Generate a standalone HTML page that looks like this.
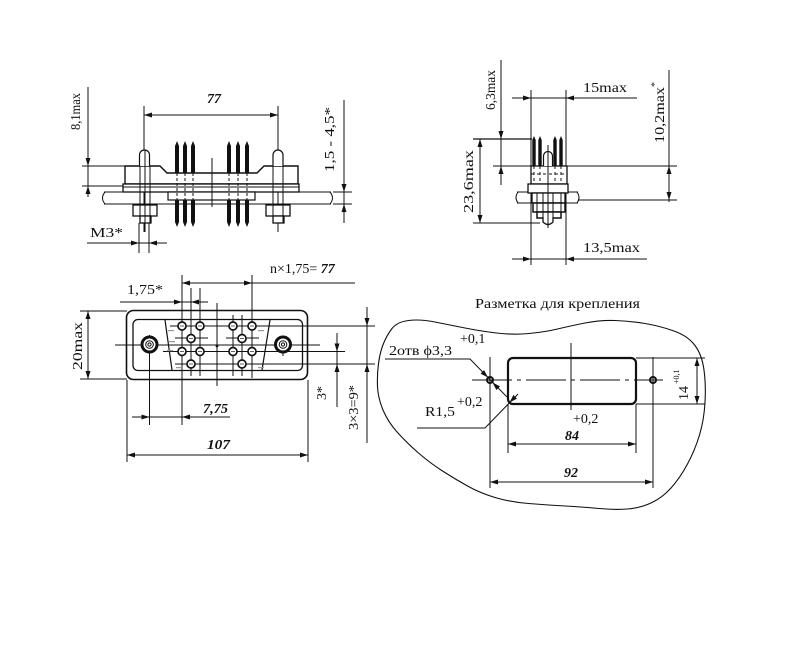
<!DOCTYPE html>
<html><head><meta charset="utf-8"><style>
html,body{margin:0;padding:0;background:#fff;}
svg{display:block;}
text{font-family:"Liberation Serif","DejaVu Serif",serif;fill:#111;font-size:14px;}
.bi{font-weight:bold;font-style:italic;}
</style></head><body>
<svg width="788" height="649" viewBox="0 0 788 649" xmlns="http://www.w3.org/2000/svg">
<rect width="788" height="649" fill="#fff"/>

<!-- ============ TOP-LEFT VIEW ============ -->
<g stroke="#111" stroke-width="1" fill="none">
  <!-- 77 dim -->
  <path d="M144,115 H278"/>
  <path d="M144,106 V232 M278,106 V232"/>
  <!-- 8,1max dim -->
  <path d="M88,87 V197 M82,166 H125 M82,186 H124"/>
  <!-- panel -->
  <path d="M104,192 H331 M104,204 H331"/>
  <path d="M105,192 Q100,198 105,204 M330,192 Q335,198 330,204"/>
  <!-- body -->
  <path d="M125,184 V166 H160 L167,173 H257 L264,166 H298 V184 Z" fill="#fff" stroke-width="1.4"/>
  <rect x="123" y="184" width="176" height="8" fill="#fff" stroke-width="1.3"/>
  <path d="M123,187 H299"/>
  <rect x="168" y="192" width="87" height="8" fill="#fff" stroke-width="1.2"/>
  <!-- center line -->
  <path d="M212,158 V207"/>
  <!-- hidden pin lines -->
  <path d="M177,173 V200 M185,173 V200 M193,173 V200 M229,173 V200 M238,173 V200 M247,173 V200" stroke-dasharray="3,2"/>
  <!-- left stud -->
  <path d="M139.5,166 V155 A5,5 0 0 1 149.5,155 V166" fill="#fff" stroke-width="1.2"/>
  <path d="M140,166 V223 M150,166 V223"/>
  <rect x="133" y="205" width="24" height="11" fill="#fff" stroke-width="1.3"/>
  <rect x="140" y="216" width="11" height="7" fill="#fff" stroke-width="1.3"/>
  <path d="M140,205 V223 M150,205 V223 M145,150 V232"/>
  <!-- right stud -->
  <path d="M273,166 V155 A5,5 0 0 1 283,155 V166" fill="#fff" stroke-width="1.2"/>
  <path d="M273,166 V223 M283,166 V223"/>
  <rect x="266" y="205" width="24" height="11" fill="#fff" stroke-width="1.3"/>
  <rect x="273" y="216" width="11" height="7" fill="#fff" stroke-width="1.3"/>
  <path d="M273,205 V223 M283,205 V223"/>
  <!-- 1,5-4,5 dim -->
  <path d="M344,100 V223 M333,192 H352 M333,204 H352"/>
  <!-- M3 dim -->
  <path d="M87,243 H167 M139,223 V253 M149,223 V253"/>
</g>
<!-- pins -->
<g fill="#111">
  <path d="M175,173 V146 L177,141 L179,146 V173 Z"/>
  <path d="M183,173 V146 L185,141 L187,146 V173 Z"/>
  <path d="M191,173 V146 L193,141 L195,146 V173 Z"/>
  <path d="M227,173 V146 L229,141 L231,146 V173 Z"/>
  <path d="M236,173 V146 L238,141 L240,146 V173 Z"/>
  <path d="M245,173 V146 L247,141 L249,146 V173 Z"/>
  <path d="M175,200 V222 L177,227 L179,222 V200 Z"/>
  <path d="M183,200 V222 L185,227 L187,222 V200 Z"/>
  <path d="M191,200 V222 L193,227 L195,222 V200 Z"/>
  <path d="M227,200 V222 L229,227 L231,222 V200 Z"/>
  <path d="M236,200 V222 L238,227 L240,222 V200 Z"/>
  <path d="M245,200 V222 L247,227 L249,222 V200 Z"/>
  <!-- arrows -->
  <polygon points="144,115 152,112.5 152,117.5"/>
  <polygon points="278,115 270,112.5 270,117.5"/>
  <polygon points="88,166 85.5,158 90.5,158"/>
  <polygon points="88,186 85.5,194 90.5,194"/>
  <polygon points="344,192 341.5,184 346.5,184"/>
  <polygon points="344,204 341.5,212 346.5,212"/>
  <polygon points="139,243 131,240.5 131,245.5"/>
  <polygon points="149,243 157,240.5 157,245.5"/>
</g>
<text class="bi" x="207" y="103" font-size="13">77</text>
<text transform="translate(80,130) rotate(-90)" textLength="37" lengthAdjust="spacingAndGlyphs">8,1max</text>
<text transform="translate(334,172) rotate(-90)" textLength="65" lengthAdjust="spacingAndGlyphs">1,5 - 4,5*</text>
<text x="90" y="237" textLength="33" lengthAdjust="spacingAndGlyphs">M3*</text>

<!-- ============ TOP-RIGHT VIEW ============ -->
<g stroke="#111" stroke-width="1" fill="none">
  <path d="M531,90 V265 M566,90 V265"/>
  <path d="M512,98 H637 M512,259 H647"/>
  <path d="M501,60 V185"/>
  <path d="M473,139 H532" stroke-width="1.3"/>
  <path d="M493,166 H677 M578,200 H677 M473,223 H540"/>
  <path d="M480,139 V223"/>
  <path d="M669,70 V202"/>
  <!-- panel -->
  <path d="M517,192 H578 M517,203 H578"/>
  <path d="M518,192 Q514,197.5 518,203 M577,192 Q581,197.5 577,203"/>
  <!-- body -->
  <rect x="531" y="166" width="36" height="18" fill="#fff" stroke-width="1.3"/>
  <path d="M534,166 V184 M540,166 V184 M555,166 V184 M561,166 V184" stroke-dasharray="3,3"/>
  <path d="M531,174 H567" stroke-dasharray="3,3"/>
  <rect x="528" y="184" width="40" height="9" fill="#fff" stroke-width="1.3"/>
  <path d="M543.5,166 V156 A4.5,4.5 0 0 1 552.5,156 V166" fill="#fff" stroke-width="1.2"/>
  <!-- nut assembly -->
  <rect x="532" y="193" width="33" height="10" fill="#fff" stroke-width="1.3"/>
  <rect x="533" y="203" width="32" height="9" fill="#fff" stroke-width="1.5"/>
  <rect x="537" y="212" width="24" height="6" fill="#fff" stroke-width="1.5"/>
  <path d="M543,217 V222 Q548,227 553,222 V217" fill="#fff" stroke-width="1.3"/>
  <path d="M537,193 V218 M543,193 V218 M553,193 V218 M561,193 V218 M548,145 V228"/>
</g>
<g fill="#111">
  <path d="M532.3,166 V140 L534,136 L535.7,140 V166 Z"/>
  <path d="M538.3,166 V140 L540,136 L541.7,140 V166 Z"/>
  <path d="M553.3,166 V140 L555,136 L556.7,140 V166 Z"/>
  <path d="M559.3,166 V140 L561,136 L562.7,140 V166 Z"/>
  <polygon points="531,98 523,95.5 523,100.5"/>
  <polygon points="566,98 574,95.5 574,100.5"/>
  <polygon points="531,259 523,256.5 523,261.5"/>
  <polygon points="566,259 574,256.5 574,261.5"/>
  <polygon points="501,139 498.5,131 503.5,131"/>
  <polygon points="501,166 498.5,174 503.5,174"/>
  <polygon points="480,139 477.5,147 482.5,147"/>
  <polygon points="480,223 477.5,215 482.5,215"/>
  <polygon points="669,166 666.5,174 671.5,174"/>
  <polygon points="669,200 666.5,192 671.5,192"/>
</g>
<text x="583" y="92" textLength="44" lengthAdjust="spacingAndGlyphs">15max</text>
<text x="583" y="252" textLength="57" lengthAdjust="spacingAndGlyphs">13,5max</text>
<text transform="translate(495,110) rotate(-90)" textLength="40" lengthAdjust="spacingAndGlyphs">6,3max</text>
<text transform="translate(473,213) rotate(-90)" textLength="63" lengthAdjust="spacingAndGlyphs">23,6max</text>
<text transform="translate(664,143) rotate(-90)"><tspan textLength="56" lengthAdjust="spacingAndGlyphs">10,2max</tspan><tspan dy="-6" font-size="10">*</tspan></text>

<!-- ============ BOTTOM-LEFT VIEW ============ -->
<g stroke="#111" stroke-width="1" fill="none">
  <!-- construction lines -->
  <path d="M182,275 V425 M191,288 V376 M200,288 V376 M217,303 V386 M233,315 V376 M242,315 V376 M252,275 V378 M149.5,335 V425 M283,336 V356"/>
  <path d="M170,326 H375 M175,338 H208 M226,338 H259 M115,345 H320 M163,351.5 H345 M175,364 H375"/>
  <path d="M127,380 V462 M308,380 V462"/>
  <!-- body -->
  <rect x="126.5" y="310.5" width="181" height="69" rx="7" fill="none" stroke-width="1.6"/>
  <rect x="133" y="319.5" width="169.5" height="51" rx="5" fill="none" stroke-width="1.3"/>
  <path d="M165,320 L172,370 M270,320 L262,370" stroke-width="1.2"/>
  <!-- holes -->
  <circle cx="149.5" cy="344.5" r="7.5" stroke-width="3" fill="#fff"/>
  <circle cx="149.5" cy="344.5" r="3.8"/>
  <circle cx="149.5" cy="344.5" r="1.6"/>
  <circle cx="283" cy="344.5" r="7.5" stroke-width="3" fill="#fff"/>
  <circle cx="283" cy="344.5" r="3.8"/>
  <circle cx="283" cy="344.5" r="1.6"/>
  <!-- contacts -->
  <g stroke-width="1.7" fill="#fff">
    <circle cx="182" cy="326" r="4"/><circle cx="200" cy="326" r="4"/>
    <circle cx="191" cy="338.5" r="4"/>
    <circle cx="182" cy="351.5" r="4"/><circle cx="200" cy="351.5" r="4"/>
    <circle cx="191" cy="364" r="4"/>
    <circle cx="233" cy="326" r="4"/><circle cx="252" cy="326" r="4"/>
    <circle cx="242" cy="338.5" r="4"/>
    <circle cx="233" cy="351.5" r="4"/><circle cx="252" cy="351.5" r="4"/>
    <circle cx="242" cy="364" r="4"/>
  </g>
  <path d="M180,326 H184 M198,326 H202 M189,338.5 H193 M180,351.5 H184 M198,351.5 H202 M189,364 H193 M231,326 H235 M250,326 H254 M240,338.5 H244 M231,351.5 H235 M250,351.5 H254 M240,364 H244" stroke="#666"/>
  <!-- dims -->
  <path d="M88,311 V379 M80,311 H127 M80,379 H127"/>
  <path d="M182,283 H355"/>
  <path d="M120,302 H208"/>
  <path d="M132,417 H230"/>
  <path d="M127,455 H308"/>
  <path d="M337,333 V407"/>
  <path d="M367,307 V443"/>
</g>
<g fill="#999">
  <rect x="168" y="330" width="6" height="1.2"/><rect x="169" y="341" width="6" height="1.2"/>
  <rect x="167" y="350" width="6" height="1.2"/><rect x="176" y="367" width="6" height="1.2"/>
  <rect x="258" y="330" width="6" height="1.2"/><rect x="258" y="367" width="6" height="1.2"/>
</g>
<g fill="#111">
  <circle cx="217" cy="346" r="1.4"/>
  <polygon points="88,311 85.5,319 90.5,319"/>
  <polygon points="88,379 85.5,371 90.5,371"/>
  <polygon points="182,283 190,280.5 190,285.5"/>
  <polygon points="252,283 244,280.5 244,285.5"/>
  <polygon points="182,302 174,299.5 174,304.5"/>
  <polygon points="191,302 199,299.5 199,304.5"/>
  <polygon points="149.5,417 141.5,414.5 141.5,419.5"/>
  <polygon points="182,417 190,414.5 190,419.5"/>
  <polygon points="127,455 135,452.5 135,457.5"/>
  <polygon points="308,455 300,452.5 300,457.5"/>
  <polygon points="337,351.5 334.5,343.5 339.5,343.5"/>
  <polygon points="337,364 334.5,372 339.5,372"/>
  <polygon points="367,326 364.5,318 369.5,318"/>
  <polygon points="367,364 364.5,372 369.5,372"/>
</g>
<text transform="translate(82,370) rotate(-90)" font-size="15" textLength="48" lengthAdjust="spacingAndGlyphs">20max</text>
<text x="270" y="273">n×1,75= <tspan class="bi">77</tspan></text>
<text x="127" y="294" textLength="36" lengthAdjust="spacingAndGlyphs">1,75*</text>
<text class="bi" x="203" y="413" textLength="25" lengthAdjust="spacingAndGlyphs">7,75</text>
<text class="bi" x="207" y="449" textLength="23" lengthAdjust="spacingAndGlyphs">107</text>
<text transform="translate(326,400) rotate(-90)">3*</text>
<text transform="translate(358,430) rotate(-90)" textLength="45" lengthAdjust="spacingAndGlyphs">3×3=9*</text>

<!-- ============ BOTTOM-RIGHT VIEW ============ -->
<text x="475" y="308" font-size="15" textLength="165" lengthAdjust="spacingAndGlyphs">Разметка для крепления</text>
<g stroke="#111" stroke-width="1" fill="none">
  <path d="M408.5,320.5 Q420,319 435,322 Q450,325 465,328 Q480,331 496.5,333 Q513,335 529,333.5 Q545,332 557.5,329 Q570,326 585,323 Q600,320 615,320.5 Q630,321 645,323.5 Q660,326 674,331 Q688,336 695,345.5 Q702,355 704,370 Q706,385 705,402.5 Q704,420 699.5,435 Q695,450 687.5,464 Q680,478 671,488 Q662,498 651,503 Q640,508 627.5,509 Q615,510 599,508.5 Q583,507 565,506 Q547,505 528.5,503.5 Q510,502 495,497.5 Q480,493 467.5,486 Q455,479 442.5,471 Q430,463 418.5,453 Q407,443 397.5,432.5 Q388,422 383,410 Q378,398 377.5,386.5 Q377,375 378.5,363.5 Q380,352 383.5,343.5 Q387,335 392,328.5 Q397,322 408.5,320.5 Z" stroke-width="1.1"/>
  <!-- ext lines -->
  <path d="M490,357 V488 M653,357 V488 M508,404 V453 M636,404 V453 M636,358 H705 M636,404 H705"/>
  <path d="M571,343 V410"/>
  <path d="M472,380 H663" stroke-dasharray="40,5,4,5"/>
  <rect x="508" y="358" width="128" height="46" rx="5" stroke-width="2.2" fill="none"/>
  <circle cx="490" cy="380" r="3" stroke-width="2"/>
  <circle cx="653" cy="380" r="3" stroke-width="2"/>
  <!-- dims -->
  <path d="M508,444 H636"/>
  <path d="M490,482 H653"/>
  <path d="M697,358 V404"/>
  <!-- leaders -->
  <path d="M385,359 H470 L507,397"/>
  <path d="M417,428 H485 L518,394"/>
</g>
<g fill="#111">
  <polygon points="488,377.5 484.1,370.1 480.6,373.6"/>
  <polygon points="492.5,382.5 500,386.4 496.4,390"/>
  <polygon points="509.5,402.5 517,398.6 513.4,395"/>
  <polygon points="508,444 516,441.5 516,446.5"/>
  <polygon points="636,444 628,441.5 628,446.5"/>
  <polygon points="490,482 498,479.5 498,484.5"/>
  <polygon points="653,482 645,479.5 645,484.5"/>
  <polygon points="697,358 694.5,366 699.5,366"/>
  <polygon points="697,404 694.5,396 699.5,396"/>
</g>
<text x="389" y="355" textLength="63" lengthAdjust="spacingAndGlyphs">2отв ϕ3,3</text>
<text x="460" y="343" font-size="8">+0,1</text>
<text x="425" y="416" textLength="30" lengthAdjust="spacingAndGlyphs">R1,5</text>
<text x="457" y="406" font-size="9">+0,2</text>
<text x="573" y="423" font-size="8">+0,2</text>
<text class="bi" x="565" y="440">84</text>
<text class="bi" x="564" y="477">92</text>
<text transform="translate(688,400) rotate(-90)"><tspan>14</tspan><tspan x="16" y="-9" font-size="8">+0,1</tspan></text>
</svg>
</body></html>
